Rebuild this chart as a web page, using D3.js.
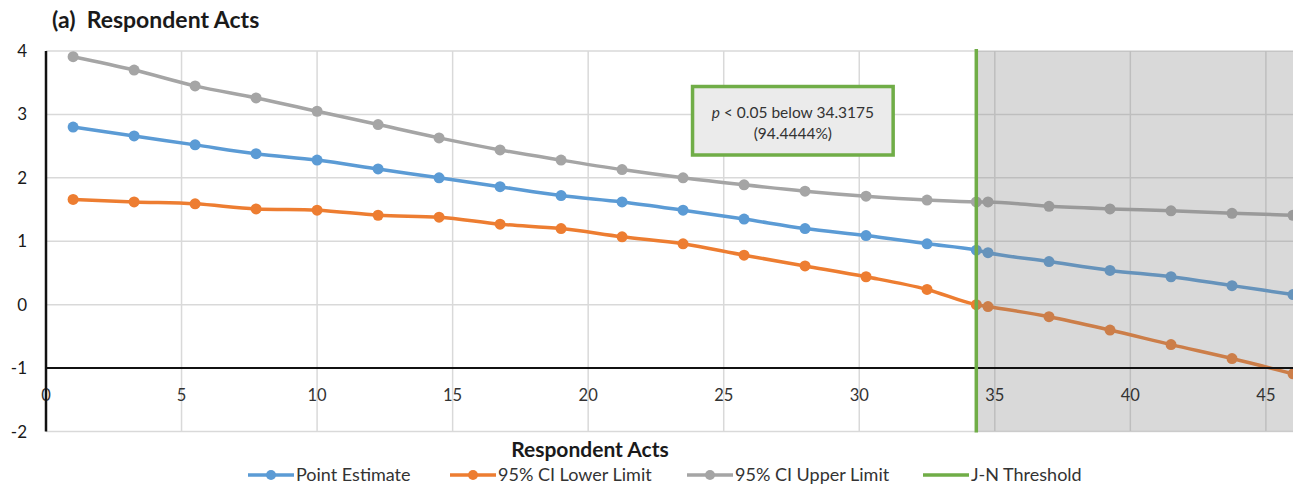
<!DOCTYPE html>
<html>
<head>
<meta charset="utf-8">
<script src="https://cdn.jsdelivr.net/npm/d3@7"></script>
<style>
  body { margin: 0; background: #fff; }
  svg { display: block; font-family: Lato, "Open Sans", sans-serif; }
</style>
</head>
<body>
<script>
// data
const acts = [1, 3.25, 5.5, 7.75, 10, 12.25, 14.5, 16.75, 19, 21.25, 23.5, 25.75,
              28, 30.25, 32.5, 34.3175, 34.75, 37, 39.25, 41.5, 43.75, 46];
const pointEstimate = [2.80, 2.66, 2.52, 2.38, 2.28, 2.14, 2.00, 1.86, 1.72, 1.62, 1.49, 1.35,
                       1.20, 1.09, 0.96, 0.86, 0.82, 0.68, 0.54, 0.44, 0.30, 0.16];
const ciLower = [1.66, 1.62, 1.59, 1.51, 1.49, 1.41, 1.38, 1.27, 1.20, 1.07, 0.96, 0.78,
                 0.61, 0.44, 0.24, 0.00, -0.03, -0.19, -0.40, -0.63, -0.85, -1.09];
const ciUpper = [3.91, 3.70, 3.45, 3.26, 3.05, 2.84, 2.63, 2.44, 2.28, 2.13, 2.00, 1.89,
                 1.79, 1.71, 1.65, 1.62, 1.62, 1.55, 1.51, 1.48, 1.44, 1.41];
const xTicks = [0, 5, 10, 15, 20, 25, 30, 35, 40, 45];
const yTicks = [-2, -1, 0, 1, 2, 3, 4];
const threshold = 34.3175;
const noteLines = ["p < 0.05 below 34.3175", "(94.4444%)"];

const seriesNames = ["Point Estimate", "95% CI Lower Limit", "95% CI Upper Limit", "J-N Threshold"];
const colors = ["#5B9BD5", "#ED7D31", "#A5A5A5", "#70AD47"];

const W = 1293, H = 486;
let svg, x, y;

setupScales();
appendSvg("body");
drawGrid();
drawSeries();
drawShade();
drawAxes();
drawNote();
drawTitles();
drawLegend();

function setupScales() {
  x = d3.scaleLinear().domain([0, 46]).range([46, 1293]);
  y = d3.scaleLinear().domain([-2, 4]).range([431.5, 51]);
}

function appendSvg(el) {
  svg = d3.select(el).append("svg")
    .attr("width", W)
    .attr("height", H);
}

function drawGrid() {
  const g = svg.append("g").attr("class", "grid");
  g.selectAll("line.h").data(yTicks).enter().append("line")
    .attr("x1", x(0)).attr("x2", x(46))
    .attr("y1", d => y(d)).attr("y2", d => y(d))
    .attr("stroke", "#d9d9d9").attr("stroke-width", 1.5);
  g.selectAll("line.v").data(xTicks.filter(d => d > 0)).enter().append("line")
    .attr("x1", d => x(d)).attr("x2", d => x(d))
    .attr("y1", y(4)).attr("y2", y(-2))
    .attr("stroke", "#d9d9d9").attr("stroke-width", 1.5);
}

function drawSeries() {
  const all = [ciUpper, pointEstimate, ciLower];
  const cols = [colors[2], colors[0], colors[1]];
  const line = d3.line()
    .x((d, i) => x(acts[i]))
    .y(d => y(d))
    .curve(d3.curveMonotoneX);

  all.forEach((vals, k) => {
    const g = svg.append("g");
    g.append("path")
      .datum(vals)
      .attr("d", line)
      .attr("fill", "none")
      .attr("stroke", cols[k])
      .attr("stroke-width", 3.5);
    g.selectAll("circle").data(vals).enter().append("circle")
      .attr("cx", (d, i) => x(acts[i]))
      .attr("cy", d => y(d))
      .attr("r", 5.5)
      .attr("fill", cols[k]);
  });
}

function drawShade() {
  svg.append("rect")
    .attr("x", x(threshold))
    .attr("y", y(4))
    .attr("width", x(46) - x(threshold))
    .attr("height", y(-2) - y(4))
    .attr("fill", "#808080")
    .attr("fill-opacity", 0.3);
}

function drawAxes() {
  // x tick labels sit just under the y = -1 crossing line
  svg.append("g").selectAll("text").data(xTicks).enter().append("text")
    .attr("x", d => x(d))
    .attr("y", y(-1) + 33)
    .attr("text-anchor", "middle")
    .attr("font-size", 16.5)
    .attr("fill", "#333")
    .text(d => d);

  svg.append("g").selectAll("text").data(yTicks).enter().append("text")
    .attr("x", 27)
    .attr("y", d => y(d) + 6)
    .attr("text-anchor", "end")
    .attr("font-size", 17)
    .attr("fill", "#1a1a1a")
    .text(d => d);

  // horizontal axis crosses at -1
  svg.append("line")
    .attr("x1", x(0)).attr("x2", x(46))
    .attr("y1", y(-1)).attr("y2", y(-1))
    .attr("stroke", "#111").attr("stroke-width", 2);
  svg.append("line")
    .attr("x1", x(0)).attr("x2", x(0))
    .attr("y1", y(4)).attr("y2", y(-2))
    .attr("stroke", "#111").attr("stroke-width", 2.5);

  // J-N threshold
  svg.append("line")
    .attr("x1", x(threshold)).attr("x2", x(threshold))
    .attr("y1", y(4) - 2).attr("y2", y(-2) + 1)
    .attr("stroke", colors[3]).attr("stroke-width", 3.5);
}

function drawNote() {
  const x0 = x(23.85), x1 = x(31.25), y0 = y(3.44), y1 = y(2.36);
  svg.append("rect")
    .attr("x", x0).attr("y", y0)
    .attr("width", x1 - x0).attr("height", y1 - y0)
    .attr("fill", "#ebebeb")
    .attr("stroke", colors[3])
    .attr("stroke-width", 3.5);
  const cx = (x0 + x1) / 2;
  const t1 = svg.append("text")
    .attr("x", cx).attr("y", y0 + 31)
    .attr("text-anchor", "middle")
    .attr("font-size", 15.5)
    .attr("fill", "#333");
  t1.append("tspan").attr("font-style", "italic").text("p");
  t1.append("tspan").text(noteLines[0].slice(1));
  svg.append("text")
    .attr("x", cx).attr("y", y0 + 52)
    .attr("text-anchor", "middle")
    .attr("font-size", 15.5)
    .attr("fill", "#333")
    .text(noteLines[1]);
}

function drawTitles() {
  svg.append("text")
    .attr("x", 52).attr("y", 28)
    .attr("font-size", 23)
    .attr("font-weight", "bold")
    .attr("fill", "#1a1a1a")
    .attr("xml:space", "preserve")
    .text("(a)  Respondent Acts");

  svg.append("text")
    .attr("x", 590).attr("y", 457)
    .attr("text-anchor", "middle")
    .attr("font-size", 21)
    .attr("font-weight", "bold")
    .attr("fill", "#1a1a1a")
    .text("Respondent Acts");
}

function drawLegend() {
  const starts = [248, 450, 687, 923];
  const g = svg.append("g").attr("class", "legend");
  seriesNames.forEach((name, i) => {
    const item = g.append("g").attr("transform", `translate(${starts[i]}, 475)`);
    item.append("line")
      .attr("x1", 0).attr("x2", 46)
      .attr("stroke", colors[i]).attr("stroke-width", 3.5);
    if (i < 3) {
      item.append("circle").attr("cx", 23).attr("r", 5).attr("fill", colors[i]);
    }
    item.append("text")
      .attr("x", 48).attr("y", 6)
      .attr("font-size", 18)
      .attr("fill", "#333")
      .text(name);
  });
}
</script>
</body>
</html>
